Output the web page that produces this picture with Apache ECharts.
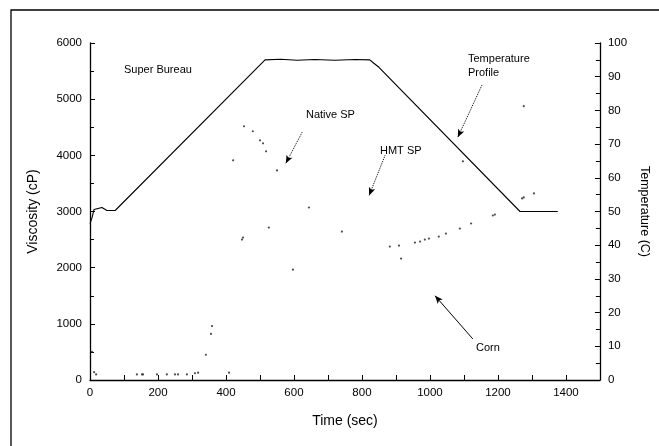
<!DOCTYPE html>
<html>
<head>
<meta charset="utf-8">
<script src="https://cdn.jsdelivr.net/npm/echarts@6.0.0/dist/echarts.min.js"></script>
<style>
html, body { margin: 0; padding: 0; background: #fff; }
#main { width: 659px; height: 446px; }
</style>
</head>
<body>
<div id="main"></div>
<script>
// temperature profile (right axis, C)
var tempTime = [0, 6, 12, 35, 50, 74, 515, 560, 610, 660, 720, 780, 823, 835, 850, 1265, 1376];
var tempValue = [46.4, 48.2, 50.6, 51.2, 50.3, 50.3, 95, 95.2, 94.9, 95.1, 94.9, 95.1, 95, 94, 92.8, 50, 50];

// viscosity dots (left axis, cP)
var nativeTime = [453, 479, 500, 509, 518, 421, 550, 644, 526, 450, 447, 741, 597];
var nativeVisc = [4518, 4429, 4268, 4214, 4071, 3911, 3732, 3071, 2714, 2536, 2500, 2643, 1964];

var cornTime = [6, 12, 18, 138, 153, 156, 197, 226, 250, 259, 285, 309, 318, 341, 356, 359, 409];
var cornVisc = [500, 140, 100, 100, 100, 100, 100, 100, 100, 100, 100, 120, 130, 450, 820, 960, 130];

var hmtTime = [882, 909, 915, 956, 971, 985, 997, 1026, 1047, 1088, 1121, 1185, 1191, 1271, 1276, 1306, 1276, 1097];
var hmtVisc = [2375, 2393, 2161, 2446, 2464, 2500, 2518, 2554, 2607, 2696, 2786, 2929, 2946, 3232, 3250, 3321, 4875, 3893];

var xLabels = [0, 200, 400, 600, 800, 1000, 1200, 1400];

function pairs(a, b) {
    var out = [];
    for (var i = 0; i < a.length; i++) {
        out.push([a[i], b[i]]);
    }
    return out;
}

var font = '"Liberation Sans", Arial, sans-serif';
var myChart = echarts.init(document.getElementById('main'));

var axisLine = { show: true, lineStyle: { color: '#000', width: 1.3 } };
var axisTick = { show: true, inside: true, length: 5, lineStyle: { color: '#000' } };
var minorTick = { show: true, splitNumber: 2, length: 4, lineStyle: { color: '#000' } };
function plain(v) { return String(v); }

// arrows, in data coordinates of the left axis
function arrow(from, to, type) {
    return [
        { coord: from, symbol: 'none' },
        { coord: to, symbol: 'arrow', symbolSize: [5, 8], lineStyle: { type: type } }
    ];
}

option = {
    animation: false,
    backgroundColor: '#fff',
    grid: { left: 90, right: 59, top: 43, bottom: 66 },
    xAxis: {
        type: 'value',
        min: 0,
        max: 1500,
        interval: 100,
        name: 'Time (sec)',
        nameLocation: 'middle',
        nameGap: 34,
        nameTextStyle: { color: '#000', fontSize: 14, fontFamily: font },
        axisLine: axisLine,
        axisTick: axisTick,
        splitLine: { show: false },
        axisLabel: {
            color: '#000', fontSize: 11.5, fontFamily: font, margin: 7,
            formatter: function (v) {
                return xLabels.indexOf(v) >= 0 ? String(v) : '';
            }
        }
    },
    yAxis: [
        {
            type: 'value',
            min: 0,
            max: 6000,
            interval: 1000,
            name: 'Viscosity (cP)',
            nameLocation: 'middle',
            nameGap: 50,
            nameTextStyle: { color: '#000', fontSize: 14, fontFamily: font },
            axisLine: axisLine,
            axisTick: axisTick,
            minorTick: minorTick,
            splitLine: { show: false },
            axisLabel: { color: '#000', fontSize: 11.5, fontFamily: font, margin: 8, formatter: plain }
        },
        {
            type: 'value',
            min: 0,
            max: 100,
            interval: 10,
            position: 'right',
            name: 'Temperature (C)',
            nameLocation: 'middle',
            nameGap: 34,
            nameRotate: -90,
            nameTextStyle: { color: '#000', fontSize: 12.5, fontFamily: font },
            axisLine: axisLine,
            axisTick: axisTick,
            minorTick: minorTick,
            splitLine: { show: false },
            axisLabel: { color: '#000', fontSize: 11.5, fontFamily: font, margin: 8, formatter: plain }
        }
    ],
    series: [
        {
            name: 'Temperature Profile',
            type: 'line',
            yAxisIndex: 1,
            data: pairs(tempTime, tempValue),
            showSymbol: false,
            lineStyle: { color: '#000', width: 1.1 },
            z: 3
        },
        {
            name: 'Native SP',
            type: 'scatter',
            data: pairs(nativeTime, nativeVisc),
            symbolSize: 2.2,
            itemStyle: { color: '#222' },
            markLine: {
                silent: true,
                label: { show: false },
                lineStyle: { color: '#000', width: 1, type: 'dotted' },
                data: [
                    arrow([624, 4411], [576, 3857], 'dotted'),
                    arrow([868, 4000], [821, 3286], 'dotted'),
                    arrow([1153, 5250], [1082, 4321], 'dotted'),
                    arrow([1126, 732], [1015, 1500], 'solid')
                ]
            }
        },
        {
            name: 'Corn',
            type: 'scatter',
            data: pairs(cornTime, cornVisc),
            symbolSize: 2.2,
            itemStyle: { color: '#222' }
        },
        {
            name: 'HMT SP',
            type: 'scatter',
            data: pairs(hmtTime, hmtVisc),
            symbolSize: 2.2,
            itemStyle: { color: '#222' }
        }
    ],
    graphic: [
        {
            type: 'rect',
            shape: { x: 11, y: 10, width: 720, height: 520 },
            style: { fill: 'none', stroke: '#000', lineWidth: 1.3 },
            silent: true
        },
        { type: 'text', left: 124, top: 64, style: { text: 'Super Bureau', font: '11px ' + font, fill: '#000' } },
        { type: 'text', left: 306, top: 109, style: { text: 'Native SP', font: '11px ' + font, fill: '#000' } },
        { type: 'text', left: 380, top: 145, style: { text: 'HMT SP', font: '11px ' + font, fill: '#000' } },
        { type: 'text', left: 468, top: 52, style: { text: 'Temperature\nProfile', font: '11px ' + font, fill: '#000', lineHeight: 14 } },
        { type: 'text', left: 476, top: 342, style: { text: 'Corn', font: '11px ' + font, fill: '#000' } }
    ]
};

myChart.setOption(option);
</script>
</body>
</html>
